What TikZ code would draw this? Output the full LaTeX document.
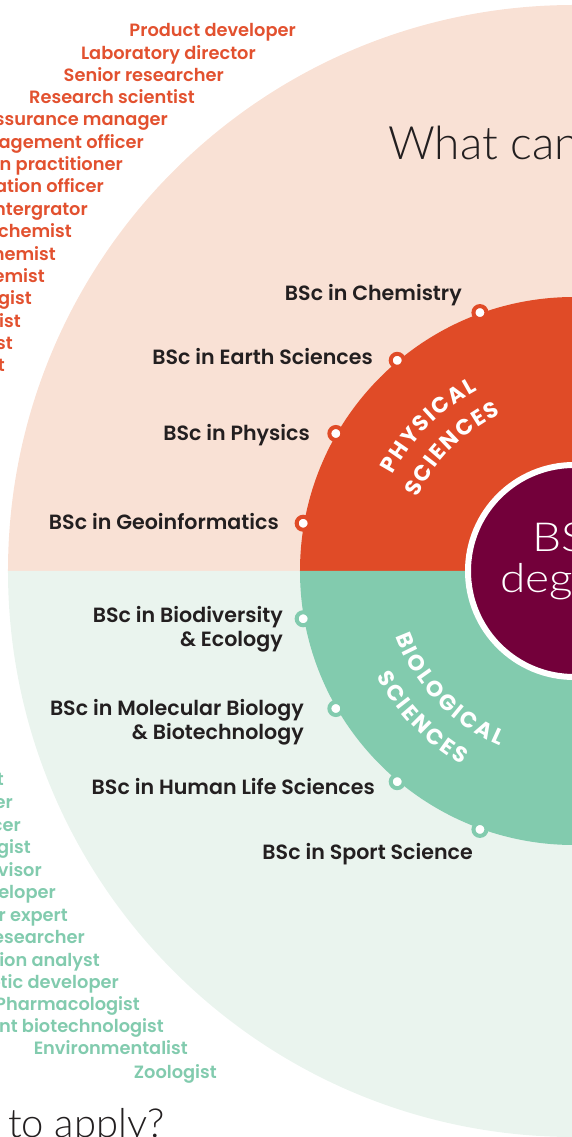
\documentclass[tikz,border=0pt]{standalone}
\usepackage{fontspec}
\setmainfont{Poppins}[BoldFont={Poppins SemiBold}]
\newfontfamily\lightfont{Lato Light}
\newfontfamily\widelight{Lato Light}[FakeStretch=1.15]
\newfontfamily\heavyfont{Poppins Bold}
\usetikzlibrary{decorations.text}
\definecolor{peach}{HTML}{F9E1D5}
\definecolor{mintbg}{HTML}{EAF4EE}
\definecolor{physred}{HTML}{E04B27}
\definecolor{biomint}{HTML}{82CBAE}
\definecolor{plum}{HTML}{73003A}
\definecolor{ink}{HTML}{231F20}
\definecolor{jobred}{HTML}{E2512F}
\begin{document}
\begin{tikzpicture}[x=1pt,y=1pt,
  bsc/.style={font=\fontsize{20.6}{24}\selectfont\bfseries, text=ink, inner sep=0pt, align=right, anchor=east},
  job/.style={font=\fontsize{17.8}{20}\selectfont\bfseries, inner sep=0pt, anchor=base east},
  dot/.style={circle, fill=white, line width=4pt, minimum size=13pt, inner sep=0pt},
  big/.style={font=\lightfont\fontsize{46}{46}\selectfont, text=ink, inner sep=0pt, anchor=base west}]
  \useasboundingbox (-574,-566) rectangle (-2,571);
  \fill[peach] (0,0) -- (566,0) arc(0:180:566) -- cycle;
  \fill[mintbg] (0,0) -- (-566,0) arc(180:360:566) -- cycle;
  \fill[physred] (0,0) -- (274,0) arc(0:180:274) -- cycle;
  \fill[biomint] (0,0) -- (-274,0) arc(180:360:274) -- cycle;
  \draw[white, line width=6pt, fill=plum] (0,0) circle(106);
  \node[font=\widelight\fontsize{40}{40}\selectfont, text=white, inner sep=0pt, anchor=base west] (deg1) at (-42,19) {BSc};
  \node[font=\widelight\fontsize{40}{40}\selectfont, text=white, inner sep=0pt, anchor=base west] (deg2) at (-74,-22) {degrees};
  \node[big] (title) at (-186,411) {What can};
  \node[big, font=\lightfont\fontsize{40}{40}\selectfont] (apply) at (-566,-566) {to apply?};
  \path[decorate, decoration={text along path, text align=fit to path, text color=white,
    text={|\heavyfont\fontsize{22}{22}\selectfont|PHYSICAL}}] (152:205) arc(152:118:205);
  \path[decorate, decoration={text along path, text align=fit to path, text color=white,
    text={|\heavyfont\fontsize{22}{22}\selectfont|SCIENCES}}] (155:173) arc(155:115:173);
  \path[decorate, decoration={text along path, text align=fit to path, text color=white,
    text={|\heavyfont\fontsize{22}{22}\selectfont|BIOLOGICAL}}] (200:190) arc(200:247:190);
  \path[decorate, decoration={text along path, text align=fit to path, text color=white,
    text={|\heavyfont\fontsize{22}{22}\selectfont|SCIENCES}}] (208:224) arc(208:240:224);
  \foreach \a/\n in {110/chem,130/earth,150/phys,170/geo}
    \node[dot, draw=physred] (\n) at (\a:275) {};
  \foreach \a/\n in {190/biodiv,210/molbio,230/human,250/sport}
    \node[dot, draw=biomint] (\n) at (\a:275) {};
  \node[bsc] (lchem) at (-112,276) {BSc in Chemistry};
  \node[bsc] (learth) at (-201,214) {BSc in Earth Sciences};
  \node[bsc] (lphys) at (-264,136) {BSc in Physics};
  \node[bsc] (lgeo) at (-295,49) {BSc in Geoinformatics};
  \node[bsc] (lbiodiv) at (-291,-58) {BSc in Biodiversity\\\& Ecology};
  \node[bsc] (lmolbio) at (-270,-151) {BSc in Molecular Biology\\\& Biotechnology};
  \node[bsc] (lhuman) at (-199,-216) {BSc in Human Life Sciences};
  \node[bsc] (lsport) at (-101,-283) {BSc in Sport Science};
  \foreach \t/\x/\y [count=\i] in {Product developer/-278/534, Laboratory director/-318/511,
    Senior researcher/-350/489, Research scientist/-379/467, assurance manager/-406/445,
    nagement officer/-430/422, on practitioner/-451/400, ation officer/-470/378,
    ntergrator/-486/355, chemist/-502/333, hemist/-518/310, emist/-529/288,
    gist/-542/266, ist/-553/243, st/-561/221, t/-569/199}
    \node[job, text=jobred] (r\i) at (\x,\y) {\t};
  \foreach \t/\x/\y [count=\i] in {t/-570/-214, er/-561/-237, cer/-553/-260, gist/-543/-282,
    visor/-532/-305, eloper/-518/-327, r expert/-506/-350, esearcher/-489/-372,
    tion analyst/-474/-395, etic developer/-455/-417, Pharmacologist/-434/-439,
    ant biotechnologist/-410/-461, Environmentalist/-386/-483, Zoologist/-357/-507}
    \node[job, text=biomint] (g\i) at (\x,\y) {\t};
\end{tikzpicture}
\end{document}
